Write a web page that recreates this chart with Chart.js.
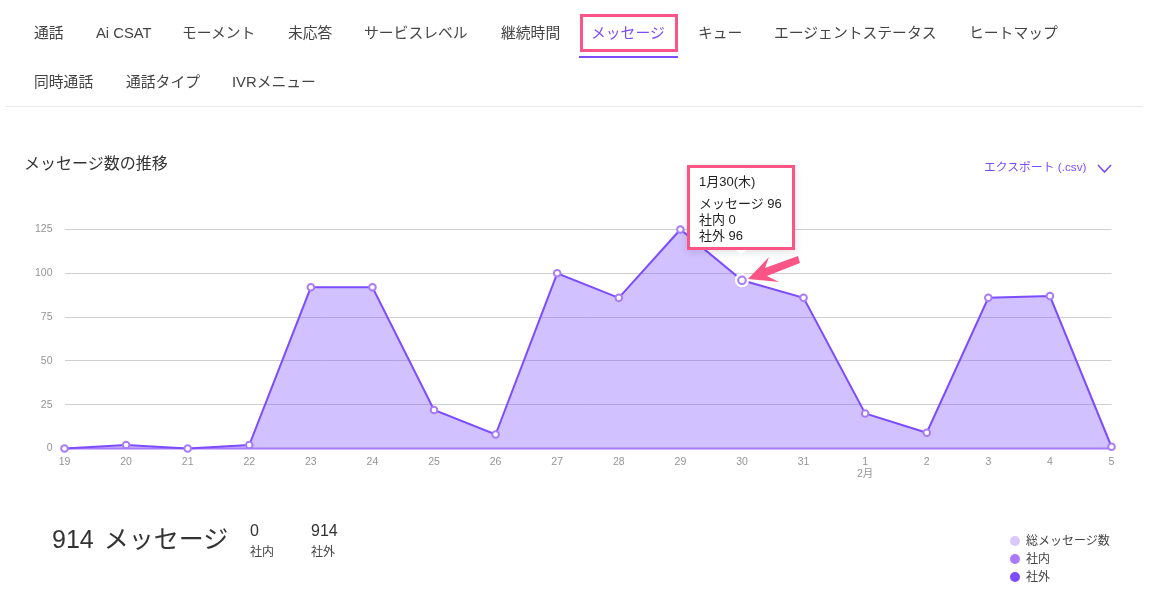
<!DOCTYPE html>
<html lang="ja"><head><meta charset="utf-8">
<script src="https://cdn.jsdelivr.net/npm/chart.js@4"></script>
<style>
html,body{margin:0;padding:0;background:#fff;width:1158px;height:601px;overflow:hidden;font-family:"Liberation Sans","Noto Sans CJK JP",sans-serif;color:#333}
.t{position:absolute;white-space:nowrap;line-height:1}
#c{position:absolute;left:0;top:0;width:1158px;height:601px}
#tip{position:absolute;box-sizing:border-box;width:108px;height:85px;background:#fff;border:3px solid #fa5586;color:#222;font-size:13px;padding:6px 0 0 9px;line-height:16.2px;box-shadow:0 2px 8px rgba(0,0,0,.12)}
#tip .h{font-size:13px;margin-bottom:5px}
#tip:after{content:"";position:absolute;left:46px;bottom:-8px;border:5px solid transparent;border-top-color:#fff;border-bottom:0}
</style></head><body>
<canvas id="c" width="1158" height="601"></canvas>
<div id="page"></div>
<div id="tip"></div>
<svg style="position:absolute;left:0;top:0" width="1158" height="601">
<polygon points="748,279 769,257 765,268 798,256 800,263 767,276 779,282" fill="#fa5586"/>
<polyline points="1098,165 1104.5,172 1111,165" fill="none" stroke="#7c4dff" stroke-width="1.6"/>
</svg>
<script>
const categories=['19','20','21','22','23','24','25','26','27','28','29','30','31',['1','2月'],'2','3','4','5'];
const totalValues=[0,2,0,2,92,92,22,8,100,86,125,96,86,20,9,86,87,1];
const internalValues=[0,0,0,0,0,0,0,0,0,0,0,0,0,0,0,0,0,0];
const externalValues=[0,2,0,2,92,92,22,8,100,86,125,96,86,20,9,86,87,1];
const yTicks=[0,25,50,75,100,125];
const tabsRow=[['通話',34,33.5],['Ai CSAT',96,33.5],['モーメント',182,33.5],['未応答',288,33.5],['サービスレベル',364,33.5],['継続時間',501,33.5],['メッセージ',591,33.5],['キュー',698,33.5],['エージェントステータス',774,33.5],['ヒートマップ',969,33.5],['同時通話',34,82.5],['通話タイプ',126,82.5],['IVRメニュー',232,82.5]];
const legendItems=[['総メッセージ数','#d9c8ff'],['社内','#aa7bf8'],['社外','#7c4dff']];
const activeIndex=11;
const tipTitle='1月30(木)';
const tipLines=['メッセージ 96','社内 0','社外 96'];

const page=document.getElementById('page');
function text(s,x,y,size,color,extra){const d=document.createElement('div');d.className='t';d.textContent=s;
 d.style.cssText=`left:${x}px;top:${y-size/2}px;font-size:${size}px;color:${color};${extra||''}`;page.appendChild(d);}
function box(x,y,w,h,css){const d=document.createElement('div');d.style.cssText=`position:absolute;left:${x}px;top:${y}px;width:${w}px;height:${h}px;${css}`;page.appendChild(d);}
tabsRow.forEach(([s,x,y])=>text(s,x,y,14.8,s==='メッセージ'?'#7c4dff':'#444'));
box(580,14,92,32,'border:3px solid #fa5586');
box(579,56,99,2,'background:#7c4dff');
box(5,106,1138,1,'background:#e8e8e8');
text('メッセージ数の推移',24,163.5,16,'#333');
text('エクスポート (.csv)',984,168,11.8,'#7c4dff');
text('914 メッセージ',52,539,25,'#333','word-spacing:3px');
text('0',250,531,16,'#333');text('社内',250,552,12,'#444');
text('914',311,531,16,'#333');text('社外',311,552,12,'#444');
legendItems.forEach(([s,col],i)=>{const y=541+18*i;
 box(1010,y-5,10,10,`background:${col};border-radius:50%`);
 text(s,1026,y,12,'#444');});

const ringPlugin={id:'ring',afterDatasetsDraw(ch){
 const el=ch.getDatasetMeta(2).data[activeIndex];const c=ch.ctx;
 c.save();c.beginPath();c.arc(el.x,el.y,7,0,Math.PI*2);c.fillStyle='#fff';c.fill();
 c.beginPath();c.arc(el.x,el.y,3.8,0,Math.PI*2);c.strokeStyle='#aa7bf8';c.lineWidth=2;c.stroke();c.restore();
 const tip=document.getElementById('tip');
 tip.style.left=(el.x-55)+'px';tip.style.top=(el.y-115)+'px';
 tip.innerHTML=`<div class="h">${tipTitle}</div>`+tipLines.map(l=>`<div>${l}</div>`).join('');
}};
new Chart(document.getElementById('c'),{type:'line',plugins:[ringPlugin],
 data:{labels:categories,datasets:[
  {label:'総メッセージ数',data:totalValues,order:3,fill:'origin',backgroundColor:'rgba(124,77,255,.35)',borderColor:'rgba(0,0,0,0)',borderWidth:0,pointRadius:0,tension:0,clip:false},
  {label:'社内',data:internalValues,order:2,borderColor:'#aa7bf8',borderWidth:2,pointRadius:0,tension:0,clip:false},
  {label:'社外',data:externalValues,order:1,borderColor:'#7c4dff',borderWidth:2,pointRadius:3.3,pointBorderWidth:2,pointBorderColor:'#aa7bf8',pointBackgroundColor:'#fff',tension:0,clip:false}
 ]},
 options:{responsive:false,animation:false,events:[],
  layout:{padding:{top:229.5,left:0.5,right:46.5,bottom:112.5}},
  plugins:{legend:{display:false},tooltip:{enabled:false}},
  scales:{
   y:{min:0,max:125,afterFit(s){s.width=64;},afterBuildTicks(s){s.ticks=yTicks.map(v=>({value:v}));},
      border:{display:false},grid:{color:'#cfcfcf',drawTicks:false,lineWidth:1},
      ticks:{padding:12,color:'#959595',font:{size:10.5,family:'"Liberation Sans","Noto Sans CJK JP"'}}},
   x:{afterFit(s){s.height=40;},border:{display:false},grid:{display:false,drawTicks:false},
      ticks:{padding:7,autoSkip:false,maxRotation:0,color:'#959595',font:{size:10.5,family:'"Liberation Sans","Noto Sans CJK JP"'}}}
  }}});
</script></body></html>
